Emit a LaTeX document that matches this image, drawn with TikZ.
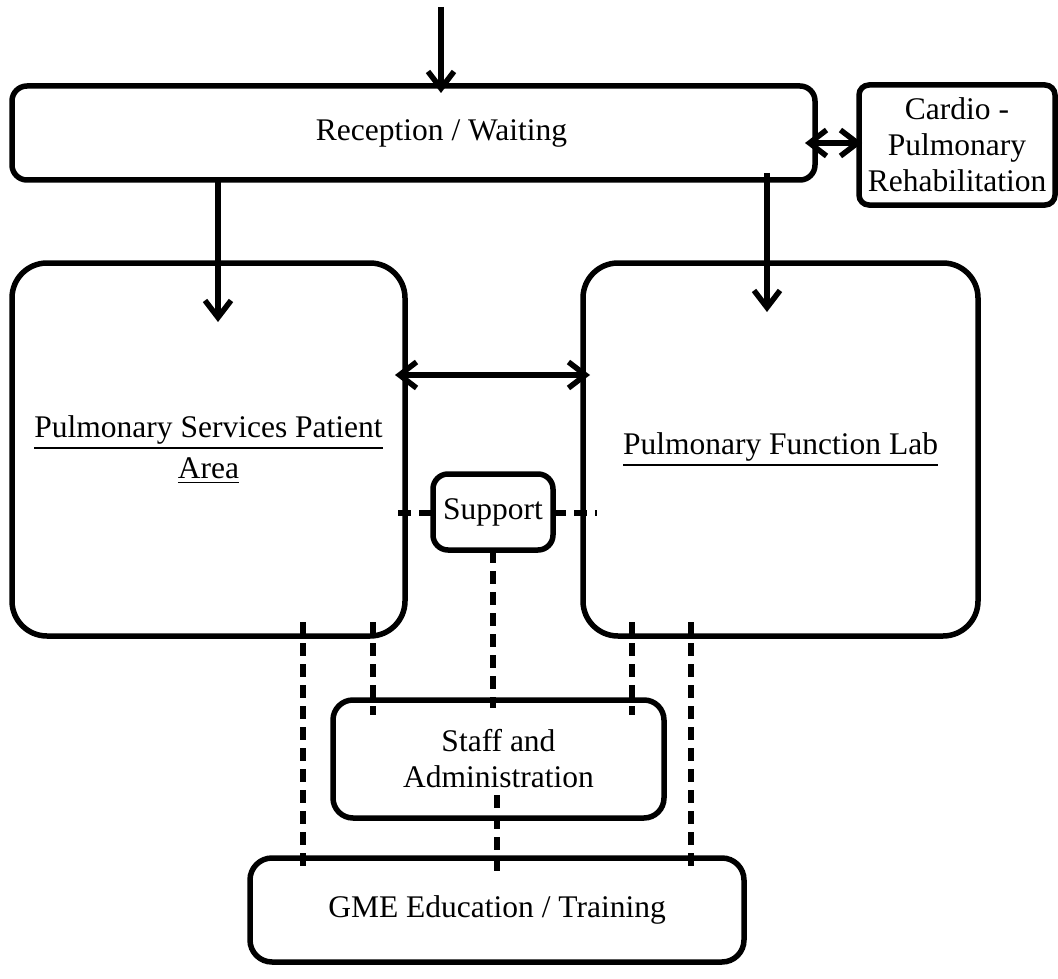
\documentclass[tikz,border=0pt]{standalone}
\usepackage{fontspec}
\setmainfont{Liberation Serif}
\usetikzlibrary{arrows.meta}
\newcommand\myul[1]{\leavevmode\vtop{\hbox{#1}\kern 2.6pt\hrule height 1.7pt}}
\begin{document}
\begin{tikzpicture}[x=1pt,y=-1pt,
  txt/.style={align=center, inner sep=2pt, font=\fontsize{31.5}{36}\selectfont},
  box/.style={draw, line width=5.5pt, rounded corners=#1, txt},
  tip/.tip={Straight Barb[length=17pt,width=26pt]},
  arr/.style={line width=5.5pt, -tip},
  darr/.style={line width=5.5pt, tip-tip},
  dsh/.style={line width=5.5pt, dash pattern=on 13pt off 8pt}]
\useasboundingbox (0,0) rectangle (1058,979);
% boxes
\node[box=15pt, minimum width=803pt, minimum height=94pt] (rec) at (413.5,133) {};
\node[txt] (rectext) at (441.5,133) {Reception / Waiting};
\node[box=10pt, minimum width=196pt, minimum height=120pt] (cpr) at (957,145) {Cardio -\\Pulmonary\\Rehabilitation};
\node[box=35pt, minimum width=393pt, minimum height=373pt, font=\fontsize{31.5}{41}\selectfont] (psa) at (208.5,449.5) {\myul{Pulmonary Services Patient}\\\myul{Area}};
\node[box=35pt, minimum width=395pt, minimum height=373pt] (pfl) at (780.5,449.5) {\myul{Pulmonary Function Lab}};
\node[box=15pt, minimum width=120pt, minimum height=76pt] (sup) at (493,512) {Support};
\node[box=20pt, minimum width=331pt, minimum height=118pt] (staff) at (498.5,759) {Staff and\\Administration};
\node[box=22pt, minimum width=494pt, minimum height=104pt] (gme) at (497,910) {GME Education / Training};
% coordinates
\coordinate (in0) at (441,7);   \coordinate (in1) at (441,93);
\coordinate (a0) at (218,180);  \coordinate (a1) at (218,322);
\coordinate (b0) at (767,173);  \coordinate (b1) at (767,312);
\coordinate (c0) at (805,143);  \coordinate (c1) at (862,143);
\coordinate (d0) at (395,375);  \coordinate (d1) at (590,375);
\coordinate (s1) at (398,513);  \coordinate (s2) at (433,513);
\coordinate (s3) at (553,513);  \coordinate (s4) at (597,513);
\coordinate (s5) at (493,550);  \coordinate (s6) at (493,708);
\coordinate (s7) at (497,795);  \coordinate (s8) at (497,873);
\coordinate (l1) at (303,622);  \coordinate (l1e) at (303,867);
\coordinate (l2) at (373,622);  \coordinate (l2e) at (373,715);
\coordinate (r1) at (632,622);  \coordinate (r1e) at (632,715);
\coordinate (r2) at (691,622);  \coordinate (r2e) at (691,867);
% arrows
\draw[arr] (in0) -- (in1);
\draw[arr] (a0) -- (a1);
\draw[arr] (b0) -- (b1);
\draw[darr] (c0) -- (c1);
\draw[darr] (d0) -- (d1);
% dashed
\draw[dsh] (s1) -- (s2);
\draw[dsh] (s3) -- (s4);
\draw[dsh] (s5) -- (s6);
\draw[dsh] (s7) -- (s8);
\draw[dsh] (l1) -- (l1e);
\draw[dsh] (l2) -- (l2e);
\draw[dsh] (r1) -- (r1e);
\draw[dsh] (r2) -- (r2e);
\end{tikzpicture}
\end{document}
